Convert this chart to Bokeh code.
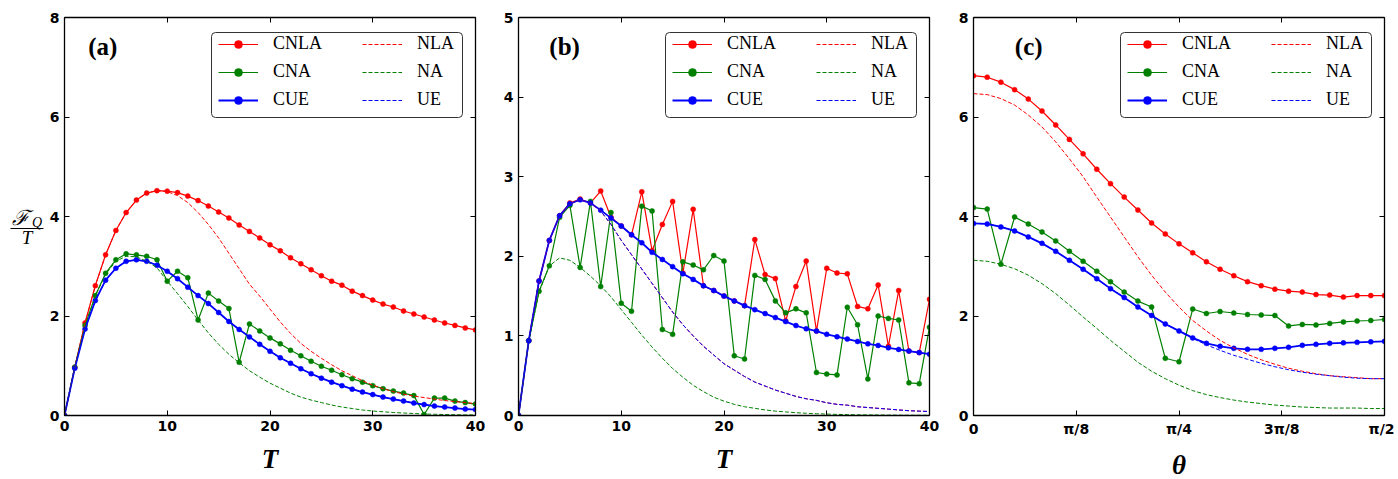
import numpy as np
from bokeh.plotting import figure
from bokeh.layouts import row
from bokeh.models import Range1d, FixedTicker, LinearAxis, Legend, LegendItem, Label, BoxAnnotation
from bokeh.embed import file_html
from bokeh.resources import INLINE

# ---------------- data ----------------
T = list(range(41))
theta = [i * np.pi / 60 for i in range(31)]

a_cnla = [0, 0.97, 1.86, 2.61, 3.23, 3.72, 4.08, 4.33, 4.47, 4.52, 4.51, 4.48, 4.41, 4.32, 4.21, 4.09, 3.97, 3.83,
          3.70, 3.57, 3.43, 3.31, 3.17, 3.05, 2.93, 2.81, 2.70, 2.62, 2.50, 2.41, 2.32, 2.24, 2.18, 2.10, 2.04, 1.98,
          1.92, 1.86, 1.81, 1.76, 1.72]
a_cna = [0, 0.97, 1.81, 2.41, 2.86, 3.13, 3.25, 3.23, 3.20, 3.13, 2.70, 2.90, 2.77, 1.92, 2.46, 2.30, 2.15, 1.07,
         1.84, 1.70, 1.56, 1.44, 1.31, 1.20, 1.09, 0.99, 0.91, 0.82, 0.74, 0.67, 0.60, 0.54, 0.49, 0.45, 0.40, 0.02,
         0.35, 0.35, 0.29, 0.26, 0.23]
a_cue = [0, 0.95, 1.74, 2.31, 2.72, 2.96, 3.10, 3.13, 3.10, 3.02, 2.90, 2.75, 2.58, 2.41, 2.25, 2.07, 1.89, 1.73,
         1.58, 1.43, 1.29, 1.16, 1.05, 0.94, 0.84, 0.75, 0.67, 0.60, 0.53, 0.47, 0.42, 0.37, 0.33, 0.29, 0.25, 0.22,
         0.19, 0.17, 0.15, 0.13, 0.12]
a_nla = [0, 0.97, 1.86, 2.61, 3.23, 3.72, 4.08, 4.33, 4.47, 4.52, 4.50, 4.42, 4.28, 4.08, 3.84, 3.57, 3.26, 2.95,
         2.64, 2.40, 2.14, 1.88, 1.65, 1.45, 1.29, 1.15, 1.02, 0.90, 0.80, 0.70, 0.61, 0.54, 0.48, 0.43, 0.39, 0.36,
         0.33, 0.30, 0.28, 0.26, 0.24]
a_na = [0, 0.97, 1.80, 2.40, 2.84, 3.10, 3.20, 3.19, 3.10, 2.97, 2.70, 2.45, 2.19, 1.92, 1.66, 1.43, 1.23, 1.06,
        0.90, 0.77, 0.65, 0.55, 0.45, 0.37, 0.31, 0.26, 0.21, 0.17, 0.14, 0.11, 0.09, 0.075, 0.06, 0.05, 0.04, 0.03,
        0.025, 0.02, 0.015, 0.012, 0.01]
a_ue = [0, 0.95, 1.74, 2.31, 2.72, 2.96, 3.10, 3.13, 3.10, 3.02, 2.90, 2.75, 2.58, 2.41, 2.25, 2.07, 1.89, 1.73,
        1.58, 1.43, 1.29, 1.16, 1.05, 0.94, 0.84, 0.75, 0.67, 0.60, 0.53, 0.47, 0.42, 0.37, 0.33, 0.29, 0.25, 0.22,
        0.19, 0.17, 0.15, 0.13, 0.12]

b_cnla = [0, 0.94, 1.69, 2.20, 2.51, 2.67, 2.72, 2.67, 2.82, 2.49, 2.38, 2.27, 2.81, 2.07, 2.40, 2.69, 1.79, 2.59,
          1.63, 1.57, 1.50, 1.44, 1.38, 2.21, 1.77, 1.72, 1.19, 1.62, 1.94, 1.06, 1.85, 1.79, 1.78, 1.37, 1.34, 1.64,
          0.87, 1.57, 0.81, 0.79, 1.46]
b_cna = [0, 0.94, 1.56, 1.88, 2.49, 2.64, 1.86, 2.69, 1.62, 2.55, 1.41, 1.31, 2.63, 2.57, 1.08, 1.02, 1.93, 1.89,
         1.83, 2.01, 1.94, 0.75, 0.71, 1.76, 1.71, 1.44, 1.29, 1.34, 1.29, 0.54, 0.52, 0.51, 1.36, 1.14, 0.46, 1.25,
         1.22, 1.20, 0.41, 0.40, 1.11]
b_cue = [0, 0.94, 1.69, 2.20, 2.51, 2.66, 2.71, 2.67, 2.58, 2.48, 2.38, 2.27, 2.17, 2.05, 1.96, 1.87, 1.78, 1.71,
         1.63, 1.57, 1.50, 1.44, 1.38, 1.33, 1.28, 1.23, 1.18, 1.13, 1.09, 1.06, 1.02, 0.99, 0.96, 0.93, 0.90, 0.88,
         0.85, 0.83, 0.81, 0.79, 0.77]
b_nla = [0, 0.94, 1.69, 2.20, 2.51, 2.66, 2.71, 2.67, 2.57, 2.40, 2.20, 2.02, 1.84, 1.66, 1.48, 1.30, 1.14, 1.00,
         0.87, 0.76, 0.65, 0.57, 0.49, 0.42, 0.37, 0.32, 0.28, 0.24, 0.21, 0.19, 0.16, 0.14, 0.13, 0.11, 0.10, 0.09,
         0.08, 0.07, 0.06, 0.055, 0.05]
b_na = [0, 0.94, 1.55, 1.88, 1.98, 1.95, 1.86, 1.75, 1.63, 1.49, 1.33, 1.17, 1.01, 0.86, 0.72, 0.59, 0.48, 0.38,
        0.30, 0.23, 0.18, 0.14, 0.11, 0.09, 0.07, 0.055, 0.045, 0.035, 0.028, 0.022, 0.018, 0.014, 0.011, 0.009,
        0.007, 0.006, 0.005, 0.004, 0.003, 0.003, 0.002]
b_ue = [0, 0.94, 1.69, 2.20, 2.51, 2.66, 2.71, 2.67, 2.57, 2.40, 2.20, 2.02, 1.84, 1.66, 1.48, 1.30, 1.14, 1.00,
        0.87, 0.76, 0.65, 0.57, 0.49, 0.42, 0.37, 0.32, 0.28, 0.24, 0.21, 0.19, 0.16, 0.14, 0.13, 0.11, 0.10, 0.09,
        0.08, 0.07, 0.06, 0.055, 0.05]

c_cnla = [6.83, 6.80, 6.70, 6.55, 6.36, 6.12, 5.84, 5.55, 5.26, 4.95, 4.66, 4.39, 4.13, 3.87, 3.65, 3.45, 3.27, 3.09,
          2.94, 2.81, 2.69, 2.61, 2.54, 2.50, 2.48, 2.43, 2.42, 2.38, 2.41, 2.41, 2.41]
c_cna = [4.18, 4.15, 3.04, 3.99, 3.85, 3.69, 3.51, 3.30, 3.10, 2.90, 2.69, 2.48, 2.30, 2.18, 1.15, 1.08, 2.14, 2.05,
         2.09, 2.06, 2.03, 2.02, 2.01, 1.80, 1.83, 1.82, 1.85, 1.88, 1.90, 1.91, 1.93]
c_cue = [3.86, 3.85, 3.79, 3.71, 3.59, 3.46, 3.30, 3.12, 2.94, 2.75, 2.55, 2.37, 2.18, 2.01, 1.84, 1.70, 1.56, 1.45,
         1.39, 1.35, 1.33, 1.33, 1.35, 1.37, 1.41, 1.43, 1.45, 1.46, 1.47, 1.48, 1.49]
c_nla = [6.47, 6.45, 6.37, 6.24, 6.04, 5.80, 5.50, 5.16, 4.80, 4.39, 3.99, 3.59, 3.19, 2.82, 2.48, 2.18, 1.91, 1.70,
         1.51, 1.36, 1.23, 1.12, 1.03, 0.95, 0.89, 0.84, 0.80, 0.78, 0.76, 0.74, 0.74]
c_na = [3.12, 3.10, 3.04, 2.95, 2.82, 2.65, 2.45, 2.22, 1.98, 1.75, 1.51, 1.29, 1.07, 0.89, 0.74, 0.61, 0.50, 0.42,
        0.36, 0.31, 0.27, 0.24, 0.21, 0.19, 0.17, 0.16, 0.15, 0.15, 0.15, 0.14, 0.14]
c_ue = [3.86, 3.85, 3.79, 3.71, 3.59, 3.46, 3.30, 3.12, 2.94, 2.75, 2.55, 2.37, 2.18, 2.01, 1.84, 1.69, 1.55, 1.42,
        1.31, 1.21, 1.13, 1.05, 0.98, 0.92, 0.87, 0.83, 0.80, 0.77, 0.75, 0.74, 0.74]

x_ticks_T = [0, 10, 20, 30, 40]
x_ticks_theta = [0, np.pi / 8, np.pi / 4, 3 * np.pi / 8, np.pi / 2]
x_tick_labels_theta = ["0", "π/8", "π/4", "3π/8", "π/2"]
y_ticks_8 = [0, 2, 4, 6, 8]
y_ticks_5 = [0, 1, 2, 3, 4, 5]
series_names = ["CNLA", "CNA", "CUE", "NLA", "NA", "UE"]
panel_tags = ["(a)", "(b)", "(c)"]

RED, GREEN, BLUE = "#ff0000", "#008000", "#0000ff"
TICK_FONT = "DejaVu Sans"
SERIF = "Liberation Serif"
FW, FH = 411, 398          # frame size in px
TOP, BOTTOM = 17, 64       # borders
STRIP = 46                 # width of the strip that holds the y label


def style_axis(ax, ticks, show_labels=True):
    ax.ticker = FixedTicker(ticks=ticks)
    ax.major_tick_in = 5
    ax.major_tick_out = 0
    ax.minor_tick_line_color = None
    ax.axis_line_color = "black"
    ax.axis_line_width = 1.3
    ax.major_tick_line_color = "black"
    ax.major_tick_line_width = 1
    if show_labels:
        ax.major_label_text_font = TICK_FONT
        ax.major_label_text_font_style = "bold"
        ax.major_label_text_font_size = "14px"
        ax.major_label_text_color = "black"
        ax.major_label_standoff = 5
    else:
        ax.major_label_text_font_size = "0px"
        ax.major_label_text_color = None
        ax.major_label_standoff = 0


def make_panel(x, ys, xr, yr, xticks, yticks, left, right, xlabel, tag, tag_pos, xlabels=None):
    p = figure(frame_width=FW, frame_height=FH, x_range=Range1d(*xr), y_range=Range1d(*yr),
               output_backend="svg", toolbar_location=None,
               min_border_left=left, min_border_right=right, min_border_top=TOP, min_border_bottom=BOTTOM)
    p.xgrid.visible = False
    p.ygrid.visible = False
    p.outline_line_color = None
    p.background_fill_color = "white"
    p.border_fill_color = "white"

    style_axis(p.xaxis[0], xticks)
    style_axis(p.yaxis[0], yticks)
    if xlabels is not None:
        p.xaxis[0].major_label_overrides = {t: l for t, l in zip(xticks, xlabels)}
    p.xaxis[0].axis_label = xlabel
    p.xaxis[0].axis_label_text_font = SERIF
    p.xaxis[0].axis_label_text_font_style = "bold italic"
    p.xaxis[0].axis_label_text_font_size = "27px"
    p.xaxis[0].axis_label_text_color = "black"
    p.xaxis[0].axis_label_standoff = 10

    top = LinearAxis()
    style_axis(top, xticks, show_labels=False)
    p.add_layout(top, "above")
    rgt = LinearAxis()
    style_axis(rgt, yticks, show_labels=False)
    p.add_layout(rgt, "right")

    cnla, cna, cue, nla, na, ue = ys
    r = {}
    r["CNLA_l"] = p.line(x, cnla, line_color=RED, line_width=1.2)
    r["CNLA_s"] = p.scatter(x, cnla, size=5, fill_color=RED, line_color=RED, line_width=0.5)
    r["CNA_l"] = p.line(x, cna, line_color=GREEN, line_width=1.2)
    r["CNA_s"] = p.scatter(x, cna, size=5, fill_color=GREEN, line_color=GREEN, line_width=0.5)
    r["CUE_l"] = p.line(x, cue, line_color=BLUE, line_width=1.8)
    r["CUE_s"] = p.scatter(x, cue, size=5, fill_color=BLUE, line_color=BLUE, line_width=0.5)
    r["NLA"] = p.line(x, nla, line_color=RED, line_width=1, line_dash="4 2")
    r["NA"] = p.line(x, na, line_color=GREEN, line_width=1, line_dash="4 2")
    r["UE"] = p.line(x, ue, line_color=BLUE, line_width=1, line_dash="4 2")

    # legend frame (pixel geometry relative to the frame's top-left corner)
    def px_x(px):
        return xr[0] + px / FW * (xr[1] - xr[0])

    def px_y(px):
        return yr[1] - px / FH * (yr[1] - yr[0])

    p.add_layout(BoxAnnotation(left=px_x(147), right=px_x(398), top=px_y(15), bottom=px_y(100),
                               fill_color="white", fill_alpha=1.0, line_color="#333333", line_width=1,
                               line_alpha=1.0, border_radius=4))

    col1 = [LegendItem(label=series_names[0], renderers=[r["CNLA_l"], r["CNLA_s"]]),
            LegendItem(label=series_names[1], renderers=[r["CNA_l"], r["CNA_s"]]),
            LegendItem(label=series_names[2], renderers=[r["CUE_l"], r["CUE_s"]])]
    col2 = [LegendItem(label=series_names[3], renderers=[r["NLA"]]),
            LegendItem(label=series_names[4], renderers=[r["NA"]]),
            LegendItem(label=series_names[5], renderers=[r["UE"]])]
    for items, xo in ((col1, 154), (col2, 298)):
        leg = Legend(items=items, location=(xo, 305),
                     label_text_font=SERIF, label_text_font_size="18px", label_text_color="black",
                     glyph_width=40, glyph_height=20, label_height=20, label_width=10,
                     label_standoff=15, spacing=7, padding=0, margin=0,
                     border_line_color=None, background_fill_alpha=0.0)
        p.add_layout(leg)

    p.add_layout(Label(x=tag_pos[0], y=tag_pos[1], text=tag, text_font=SERIF, text_font_style="bold",
                       text_font_size="25px", text_baseline="middle", text_align="left", text_color="black"))
    return p


p1 = make_panel(T, [a_cnla, a_cna, a_cue, a_nla, a_na, a_ue], (0, 40), (0, 8), x_ticks_T, y_ticks_8,
                64 - STRIP, 21, "T", panel_tags[0], (2.3, 7.42))
p2 = make_panel(T, [b_cnla, b_cna, b_cue, b_nla, b_na, b_ue], (0, 40), (0, 5), x_ticks_T, y_ticks_5,
                22, 22, "T", panel_tags[1], (3.0, 4.64))
p3 = make_panel(theta, [c_cnla, c_cna, c_cue, c_nla, c_na, c_ue], (0, np.pi / 2), (0, 8), x_ticks_theta,
                y_ticks_8, 22, 10, "θ", panel_tags[2], (0.158, 7.42), xlabels=x_tick_labels_theta)

# narrow strip holding the y-axis label of panel (a): F_Q / T as a stacked fraction
H_TOTAL = TOP + FH + BOTTOM
ylab = figure(frame_width=STRIP, frame_height=H_TOTAL, x_range=Range1d(0, STRIP), y_range=Range1d(H_TOTAL, 0),
              output_backend="svg", toolbar_location=None, min_border=0,
              x_axis_type=None, y_axis_type=None)
ylab.xgrid.visible = False
ylab.ygrid.visible = False
ylab.outline_line_color = None
ylab.add_layout(Label(x=20, y=200, text="ℱ", text_font="DejaVu Serif", text_font_style="italic",
                      text_font_size="21px", text_align="center", text_baseline="middle", text_color="black"))
ylab.add_layout(Label(x=36.5, y=205, text="Q", text_font=SERIF, text_font_style="italic",
                      text_font_size="14px", text_align="center", text_baseline="middle", text_color="black"))
ylab.segment(x0=[10], y0=[211], x1=[43], y1=[211], line_color="black", line_width=1)
ylab.add_layout(Label(x=26.5, y=220, text="T", text_font=SERIF, text_font_style="italic",
                      text_font_size="19px", text_align="center", text_baseline="middle", text_color="black"))

layout = row(ylab, p1, p2, p3)
open("out.html", "w").write(file_html(layout, INLINE))
